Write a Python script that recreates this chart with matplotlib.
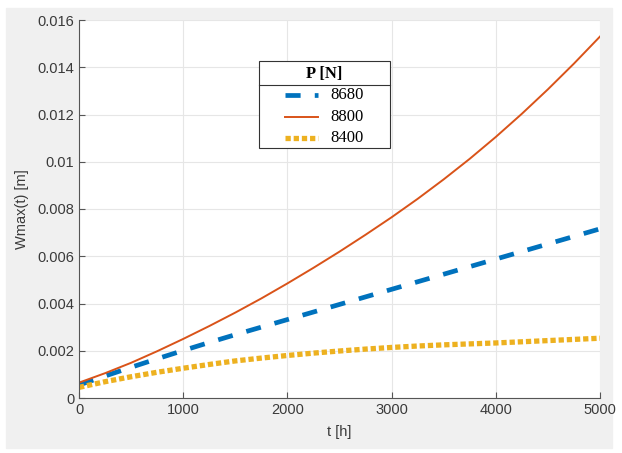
import numpy as np
import matplotlib.pyplot as plt
from matplotlib.lines import Line2D

# values
t = list(range(0, 5001, 250))
w_8680 = [0.00055, 0.00093, 0.0013, 0.00166, 0.00201, 0.00235, 0.00268, 0.0030, 0.00332, 0.00364,
          0.00396, 0.00428, 0.0046, 0.00492, 0.00524, 0.00556, 0.00588, 0.0062, 0.00652, 0.00684,
          0.00716]
w_8800 = [0.00065, 0.00105, 0.00149, 0.00198, 0.0025, 0.003045, 0.003615, 0.004215, 0.00485, 0.00551,
          0.006195, 0.00691, 0.00765, 0.00843, 0.009255, 0.010125, 0.01105, 0.01203, 0.013065,
          0.014155, 0.0153]
w_8400 = [0.00045, 0.00069, 0.0009, 0.00109, 0.00126, 0.00142, 0.00157, 0.00169, 0.0018, 0.0019,
          0.00199, 0.00207, 0.00214, 0.0022, 0.00225, 0.00229, 0.00233, 0.00238, 0.00243, 0.00248,
          0.00253]
labels = ["8680", "8800", "8400"]
legend_title = "P [N]"

styles = [
    dict(color="#0072BD", lw=3.4, ls=(0, (3.2, 3.0))),
    dict(color="#D95319", lw=1.4, ls="-"),
    dict(color="#EDB120", lw=3.8, ls=(0, (1.0, 0.55))),
]

fig = plt.figure(figsize=(6.22, 4.53), dpi=100)
fig.patch.set_facecolor("white")
# grey MATLAB figure area
fig.patches.append(plt.Rectangle((6 / 622, 5 / 453), 606 / 622, 440 / 453,
                                 transform=fig.transFigure, color="#f0f0f0", zorder=-10))

ax = fig.add_axes([79 / 622, 55 / 453, 521 / 622, 378 / 453])
ax.set_facecolor("white")

for w, st in zip([w_8680, w_8800, w_8400], styles):
    ax.plot(t, w, **st)

ax.set_xlim(0, 5000)
ax.set_ylim(0, 0.016)
ax.set_xticks(range(0, 5001, 1000))
ax.set_yticks(np.arange(0, 0.0161, 0.002))
ax.set_yticklabels(["0", "0.002", "0.004", "0.006", "0.008", "0.01", "0.012", "0.014", "0.016"])
ax.grid(True, color="#e6e6e6", lw=0.8)
ax.set_axisbelow(True)
ax.tick_params(direction="in", length=4, colors="#555555", labelcolor="#3a3a3a", labelsize=10.5)
for lab in ax.get_xticklabels() + ax.get_yticklabels():
    lab.set_family("Liberation Sans")
for s in ["top", "right"]:
    ax.spines[s].set_visible(False)
for s in ["left", "bottom"]:
    ax.spines[s].set_color("#555555")
ax.set_xlabel("t [h]", fontsize=10.5, color="#3a3a3a", family="Liberation Sans", labelpad=6)
ax.set_ylabel("Wmax(t) [m]", fontsize=10.5, color="#3a3a3a", family="Liberation Sans", labelpad=6)

# MATLAB-style legend box with title row, in axes fractions
bx0, bx1, by0, by1 = 0.3455, 0.597, 0.661, 0.8915
ax.add_patch(plt.Rectangle((bx0, by0), bx1 - bx0, by1 - by0, transform=ax.transAxes,
                           facecolor="white", edgecolor="#333333", lw=0.8, zorder=5))
ax.add_line(Line2D([bx0, bx1], [0.828, 0.828], transform=ax.transAxes, color="#333333",
                   lw=0.8, zorder=6))
ax.text((bx0 + bx1) / 2, 0.856, legend_title, transform=ax.transAxes, ha="center", va="center",
        family="Liberation Serif", fontsize=12, weight="bold", zorder=6)
for yr, lab, st in zip([0.8016, 0.7434, 0.6878], labels, styles):
    ax.add_line(Line2D([0.3954, 0.4587], [yr, yr], transform=ax.transAxes, zorder=6, **st))
    ax.text(0.482, yr, lab, transform=ax.transAxes, ha="left", va="center",
            family="Liberation Serif", fontsize=12, zorder=6)

fig.savefig("out.png", dpi=100)
